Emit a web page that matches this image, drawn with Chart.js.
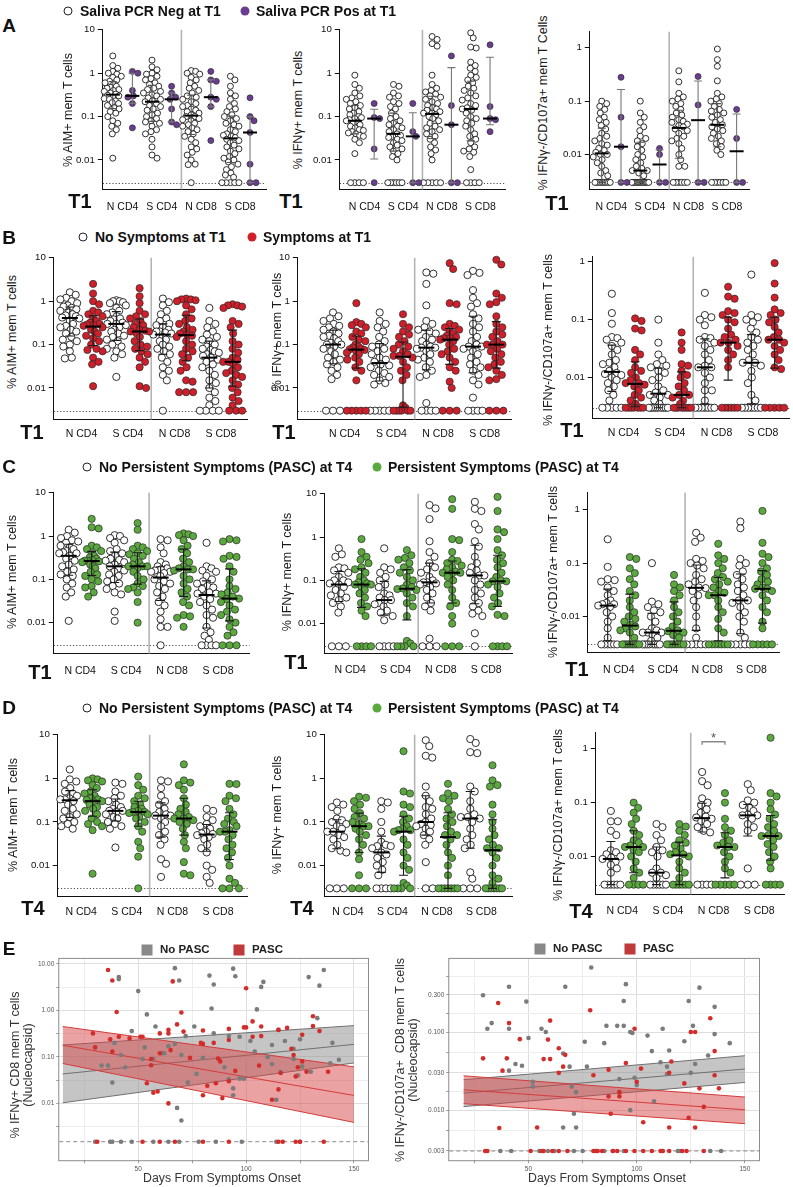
<!DOCTYPE html>
<html><head><meta charset="utf-8">
<script src="https://cdn.jsdelivr.net/npm/chart.js@4.4.1/dist/chart.umd.min.js"></script>
<style>
html,body{margin:0;padding:0;background:#fff;}
#page{position:relative;width:793px;height:1187px;overflow:hidden;font-family:'Liberation Sans',Arial,sans-serif;color:#111;}
.t{position:absolute;white-space:nowrap;line-height:1;}
.letter{font-weight:bold;font-size:19px;transform:translate(-50%,-50%);}
.leg{font-weight:bold;font-size:14px;transform:translateY(-50%);}
.legE{font-weight:bold;font-size:11.5px;transform:translateY(-50%);color:#222;}
.rot{transform:translate(-50%,-50%) rotate(-90deg);text-align:center;font-size:12.5px;color:#1a1a1a;}
.rotE{transform:translate(-50%,-50%) rotate(-90deg);text-align:center;font-size:12.5px;line-height:13px;color:#333;}
.tl{font-weight:bold;font-size:20px;transform:translate(-50%,-50%);}
.xt{font-size:12.3px;color:#333;transform:translate(-50%,-50%);}
.dot{position:absolute;width:9px;height:9px;border-radius:50%;transform:translate(-50%,-50%);box-sizing:border-box;}
.sq{position:absolute;width:11px;height:11px;transform:translate(-50%,-50%);}
</style></head><body><div id="page"></div>
<script>
// ---------------- DATA ----------------
const CATEGORIES = ['N CD4', 'S CD4', 'N CD8', 'S CD8'];
const LABEL_POS = [1.5, 3.5, 5.5, 7.5];
const TICKS_TO_10 = [10, 1, 0.1, 0.01];
const TICKS_TO_1 = [1, 0.1, 0.01];
const FLOOR = 0.003;
const DIVIDER_AT = 4.5;

// Row A (columns: N CD4 neg, N CD4 pos, S CD4 neg, S CD4 pos, N CD8 neg, N CD8 pos, S CD8 neg, S CD8 pos)
const A_AIM = [
 [2.5,1.5,1.3,1.1,1.0,0.95,0.85,0.8,0.7,0.65,0.6,0.55,0.5,0.47,0.45,0.42,0.4,0.38,0.35,0.33,0.31,0.3,0.28,0.26,0.25,0.23,0.21,0.2,0.18,0.16,0.15,0.13,0.12,0.1,0.08,0.07,0.06,0.05,0.04,0.011],
 [1.1,1.0,0.4,0.3,0.28,0.2,0.055],
 [2.0,1.4,1.2,1.0,0.95,0.85,0.75,0.7,0.6,0.55,0.5,0.45,0.42,0.38,0.35,0.32,0.3,0.27,0.25,0.23,0.22,0.2,0.18,0.17,0.15,0.14,0.12,0.11,0.1,0.09,0.08,0.075,0.07,0.06,0.05,0.045,0.04,0.03,0.02,0.013,0.011],
 [0.5,0.35,0.28,0.25,0.15,0.075,0.065],
 [1.15,1.1,1.0,0.95,0.8,0.7,0.6,0.5,0.45,0.4,0.35,0.3,0.28,0.25,0.22,0.2,0.18,0.17,0.15,0.14,0.13,0.12,0.11,0.1,0.1,0.09,0.085,0.08,0.07,0.065,0.06,0.055,0.05,0.045,0.04,0.035,0.03,0.025,0.02,0.018,0.015,0.013,0.01,0.008,0.0078,0.003],
 [1.1,0.7,0.65,0.28,0.25,0.17,0.028],
 [0.85,0.7,0.5,0.35,0.3,0.25,0.2,0.17,0.15,0.13,0.11,0.1,0.09,0.08,0.07,0.065,0.06,0.05,0.045,0.04,0.037,0.035,0.033,0.03,0.028,0.025,0.022,0.02,0.018,0.016,0.014,0.012,0.011,0.01,0.009,0.008,0.007,0.006,0.005,0.0045,0.004,0.003,0.003,0.003,0.003,0.003],
 [0.27,0.1,0.08,0.043,0.008,0.003,0.003]
];
const A_IFNG = [
 [0.9,0.55,0.45,0.35,0.3,0.27,0.25,0.22,0.2,0.18,0.16,0.15,0.13,0.12,0.11,0.1,0.095,0.09,0.085,0.08,0.075,0.07,0.065,0.06,0.055,0.05,0.048,0.045,0.042,0.04,0.037,0.035,0.03,0.025,0.014,0.003,0.003,0.003,0.003],
 [0.2,0.095,0.09,0.018,0.003],
 [0.55,0.5,0.35,0.3,0.28,0.22,0.2,0.17,0.15,0.12,0.1,0.09,0.08,0.07,0.065,0.06,0.055,0.05,0.045,0.04,0.037,0.035,0.033,0.03,0.028,0.025,0.022,0.02,0.018,0.016,0.014,0.012,0.01,0.003,0.003,0.003,0.003,0.003,0.003],
 [0.2,0.045,0.035,0.003,0.003],
 [7,6,4.8,4.2,0.9,0.55,0.45,0.4,0.37,0.33,0.3,0.28,0.25,0.22,0.2,0.18,0.16,0.15,0.14,0.13,0.12,0.12,0.11,0.1,0.09,0.08,0.07,0.06,0.055,0.05,0.045,0.04,0.035,0.03,0.025,0.02,0.017,0.014,0.01,0.003,0.003,0.003,0.003,0.003],
 [2.5,0.18,0.065,0.003,0.003],
 [8.5,6.5,4,3.8,1.8,1.5,1.3,1.1,0.9,0.8,0.7,0.6,0.5,0.45,0.4,0.35,0.3,0.27,0.24,0.2,0.18,0.16,0.15,0.14,0.12,0.1,0.09,0.08,0.07,0.06,0.05,0.04,0.035,0.03,0.025,0.02,0.018,0.016,0.015,0.012,0.006,0.003,0.003,0.003,0.003],
 [4.5,0.17,0.09,0.085,0.045]
];
const A_CD107 = [
 [0.1,0.09,0.08,0.07,0.06,0.05,0.045,0.04,0.035,0.03,0.025,0.022,0.02,0.018,0.016,0.015,0.013,0.012,0.011,0.01,0.01,0.009,0.008,0.007,0.006,0.005,0.0045,0.004,0.003,0.003,0.003,0.003,0.003,0.003,0.003,0.003,0.003,0.003],
 [0.28,0.05,0.014,0.003,0.003],
 [0.1,0.06,0.05,0.04,0.033,0.028,0.022,0.02,0.018,0.016,0.014,0.012,0.01,0.009,0.008,0.007,0.006,0.0055,0.005,0.005,0.0045,0.004,0.003,0.003,0.003,0.003,0.003,0.003,0.003,0.003,0.003,0.003,0.003,0.003,0.003,0.003,0.003],
 [0.013,0.01,0.003,0.003],
 [0.37,0.23,0.14,0.12,0.11,0.1,0.09,0.08,0.07,0.06,0.055,0.05,0.045,0.042,0.04,0.037,0.035,0.033,0.03,0.028,0.025,0.022,0.02,0.018,0.016,0.013,0.01,0.008,0.006,0.006,0.003,0.003,0.003,0.003,0.003,0.003],
 [0.29,0.085,0.003,0.003],
 [0.95,0.6,0.45,0.24,0.14,0.12,0.11,0.1,0.09,0.08,0.07,0.065,0.06,0.055,0.05,0.045,0.04,0.036,0.033,0.03,0.028,0.025,0.022,0.02,0.018,0.016,0.014,0.012,0.01,0.003,0.003,0.003,0.003,0.003,0.003],
 [0.07,0.02,0.003,0.003]
];

// Row B (No symptoms / Symptoms at T1)
const B_AIM = [
 [1.6,1.4,1.2,1.1,1.0,0.9,0.8,0.75,0.7,0.65,0.6,0.55,0.5,0.47,0.45,0.42,0.4,0.35,0.3,0.27,0.25,0.22,0.2,0.18,0.15,0.13,0.12,0.1,0.09,0.07,0.05,0.048],
 [2.5,1.5,1.0,0.85,0.6,0.55,0.5,0.45,0.4,0.35,0.32,0.3,0.29,0.28,0.27,0.25,0.22,0.2,0.18,0.16,0.14,0.12,0.1,0.08,0.075,0.07,0.05,0.04,0.035,0.011],
 [1.05,1.0,1.0,0.95,0.9,0.8,0.7,0.6,0.55,0.5,0.45,0.4,0.38,0.35,0.32,0.3,0.3,0.28,0.25,0.22,0.2,0.18,0.16,0.15,0.13,0.12,0.1,0.09,0.08,0.07,0.06,0.05,0.018],
 [2.0,1.3,0.9,0.6,0.5,0.45,0.4,0.35,0.3,0.28,0.25,0.22,0.21,0.2,0.2,0.18,0.15,0.12,0.1,0.09,0.08,0.07,0.06,0.05,0.04,0.03,0.011,0.01],
 [1.15,0.95,0.8,0.6,0.5,0.4,0.35,0.3,0.28,0.25,0.22,0.2,0.2,0.19,0.18,0.17,0.15,0.13,0.12,0.1,0.09,0.08,0.07,0.06,0.05,0.04,0.03,0.025,0.02,0.015,0.003],
 [1.15,1.1,1.1,1.05,1.0,0.8,0.65,0.5,0.4,0.35,0.3,0.25,0.22,0.2,0.18,0.17,0.16,0.15,0.12,0.1,0.08,0.07,0.06,0.05,0.04,0.03,0.025,0.015,0.014,0.008,0.008,0.008],
 [0.7,0.35,0.3,0.25,0.2,0.17,0.15,0.13,0.12,0.1,0.09,0.08,0.075,0.07,0.065,0.06,0.055,0.05,0.045,0.04,0.035,0.03,0.025,0.02,0.015,0.013,0.01,0.008,0.006,0.005,0.004,0.003,0.003,0.003,0.003],
 [0.85,0.8,0.8,0.75,0.7,0.35,0.3,0.25,0.18,0.12,0.1,0.08,0.065,0.05,0.045,0.04,0.04,0.035,0.03,0.025,0.022,0.02,0.018,0.015,0.012,0.01,0.008,0.006,0.005,0.004,0.003,0.003,0.003]
];
const B_IFNG = [
 [0.55,0.45,0.4,0.35,0.3,0.27,0.25,0.22,0.2,0.18,0.16,0.15,0.14,0.12,0.11,0.1,0.1,0.09,0.08,0.07,0.06,0.05,0.045,0.04,0.035,0.03,0.025,0.02,0.016,0.003,0.003,0.003],
 [0.9,0.33,0.3,0.28,0.25,0.2,0.18,0.15,0.13,0.12,0.1,0.09,0.085,0.08,0.078,0.075,0.07,0.065,0.06,0.05,0.045,0.04,0.03,0.025,0.015,0.003,0.003,0.003,0.003,0.003],
 [0.55,0.35,0.3,0.25,0.2,0.15,0.12,0.1,0.09,0.08,0.07,0.06,0.05,0.045,0.04,0.035,0.033,0.03,0.025,0.022,0.02,0.018,0.015,0.013,0.012,0.003,0.003,0.003,0.003,0.003],
 [0.5,0.3,0.25,0.2,0.17,0.15,0.12,0.1,0.09,0.08,0.07,0.06,0.055,0.055,0.05,0.04,0.03,0.025,0.02,0.015,0.004,0.0035,0.003,0.003,0.003,0.003,0.003,0.003],
 [4.6,4.3,2.5,0.8,0.35,0.3,0.25,0.22,0.2,0.18,0.15,0.13,0.12,0.1,0.09,0.085,0.085,0.08,0.07,0.06,0.05,0.045,0.04,0.03,0.025,0.02,0.018,0.0045,0.003,0.003,0.003,0.003],
 [7.5,5.5,0.9,0.85,0.3,0.27,0.25,0.22,0.2,0.18,0.16,0.15,0.14,0.14,0.13,0.12,0.1,0.08,0.07,0.06,0.05,0.04,0.03,0.025,0.014,0.01,0.003,0.003,0.003],
 [5,4.5,4,1.8,1.2,0.9,0.75,0.5,0.4,0.3,0.25,0.2,0.15,0.12,0.1,0.09,0.09,0.08,0.07,0.06,0.05,0.04,0.035,0.03,0.025,0.02,0.015,0.012,0.006,0.003,0.003,0.003,0.003],
 [9,7,1.5,1.2,0.95,0.85,0.45,0.3,0.25,0.2,0.17,0.15,0.12,0.1,0.1,0.1,0.08,0.07,0.06,0.05,0.04,0.035,0.03,0.025,0.02,0.016,0.015,0.003,0.003,0.003]
];
const B_CD107 = [
 [0.28,0.13,0.085,0.05,0.048,0.045,0.04,0.035,0.03,0.025,0.02,0.018,0.017,0.015,0.013,0.012,0.0115,0.011,0.01,0.009,0.008,0.007,0.006,0.005,0.004,0.003,0.003,0.003,0.003,0.003],
 [0.105,0.095,0.07,0.065,0.03,0.025,0.02,0.015,0.013,0.012,0.01,0.009,0.008,0.008,0.0075,0.007,0.006,0.005,0.0045,0.004,0.0035,0.003,0.003,0.003,0.003,0.003,0.003,0.003],
 [0.1,0.04,0.025,0.02,0.017,0.016,0.015,0.013,0.012,0.01,0.009,0.007,0.006,0.0055,0.005,0.005,0.0045,0.004,0.0035,0.003,0.003,0.003,0.003,0.003,0.003,0.003,0.003,0.003],
 [0.06,0.04,0.03,0.017,0.016,0.013,0.011,0.01,0.008,0.007,0.006,0.005,0.005,0.0045,0.004,0.0035,0.003,0.003,0.003,0.003,0.003,0.003,0.003,0.003],
 [0.29,0.12,0.11,0.1,0.08,0.05,0.048,0.045,0.04,0.035,0.03,0.025,0.02,0.016,0.015,0.015,0.012,0.01,0.008,0.006,0.006,0.004,0.003,0.003,0.003,0.003,0.003,0.003,0.003],
 [0.37,0.25,0.23,0.14,0.13,0.12,0.1,0.09,0.07,0.055,0.05,0.045,0.04,0.04,0.035,0.03,0.025,0.02,0.015,0.003,0.003,0.003,0.003,0.003,0.003],
 [0.6,0.12,0.11,0.1,0.09,0.07,0.06,0.05,0.045,0.04,0.035,0.03,0.025,0.02,0.018,0.018,0.016,0.013,0.01,0.008,0.005,0.004,0.003,0.003,0.003,0.003,0.003,0.003,0.003],
 [0.95,0.42,0.24,0.15,0.13,0.12,0.1,0.09,0.075,0.06,0.05,0.045,0.045,0.04,0.035,0.03,0.025,0.02,0.015,0.014,0.003,0.003,0.003,0.003,0.003]
];

// Row C (No PASC / PASC at T4, measured at T1)
const C_AIM = [
 [1.4,1.2,1.0,0.9,0.8,0.75,0.7,0.6,0.55,0.5,0.45,0.42,0.4,0.4,0.35,0.3,0.27,0.22,0.2,0.17,0.15,0.13,0.12,0.1,0.08,0.065,0.05,0.04,0.011],
 [2.5,1.6,1.5,0.6,0.55,0.5,0.45,0.4,0.35,0.32,0.3,0.28,0.27,0.27,0.26,0.25,0.22,0.2,0.18,0.15,0.13,0.12,0.1,0.09,0.07,0.065,0.05,0.04],
 [1.05,1.0,0.9,0.8,0.7,0.5,0.45,0.4,0.35,0.3,0.28,0.27,0.25,0.22,0.2,0.18,0.16,0.15,0.13,0.12,0.1,0.09,0.08,0.07,0.06,0.05,0.045,0.018,0.011],
 [2.0,1.4,0.6,0.55,0.5,0.45,0.4,0.38,0.35,0.3,0.25,0.22,0.2,0.2,0.2,0.18,0.15,0.12,0.1,0.08,0.07,0.065,0.06,0.05,0.03,0.01],
 [0.85,0.8,0.55,0.4,0.25,0.22,0.2,0.18,0.17,0.16,0.15,0.15,0.14,0.12,0.1,0.09,0.08,0.07,0.06,0.05,0.04,0.03,0.025,0.018,0.012,0.008,0.008,0.003],
 [1.15,1.1,1.05,1.0,0.8,0.6,0.5,0.4,0.3,0.25,0.2,0.18,0.17,0.17,0.16,0.12,0.1,0.08,0.06,0.05,0.04,0.03,0.025,0.015,0.014,0.013,0.008],
 [0.7,0.2,0.18,0.16,0.15,0.12,0.1,0.09,0.08,0.07,0.065,0.06,0.05,0.047,0.047,0.04,0.035,0.03,0.025,0.02,0.015,0.013,0.008,0.006,0.005,0.004,0.003,0.003,0.003,0.003],
 [0.85,0.8,0.75,0.35,0.33,0.3,0.2,0.15,0.1,0.07,0.06,0.05,0.045,0.04,0.036,0.035,0.03,0.025,0.02,0.018,0.015,0.012,0.01,0.008,0.006,0.005,0.003,0.003,0.003]
];
const C_IFNG = [
 [0.55,0.4,0.35,0.2,0.19,0.17,0.15,0.12,0.1,0.1,0.09,0.085,0.08,0.07,0.06,0.05,0.045,0.04,0.035,0.03,0.025,0.018,0.003,0.003,0.003],
 [0.9,0.45,0.35,0.3,0.25,0.2,0.18,0.15,0.12,0.1,0.09,0.085,0.08,0.08,0.07,0.06,0.05,0.04,0.03,0.025,0.02,0.015,0.003,0.003,0.003,0.003],
 [0.55,0.2,0.18,0.15,0.12,0.1,0.08,0.07,0.05,0.045,0.04,0.035,0.035,0.03,0.028,0.025,0.02,0.018,0.015,0.012,0.003,0.003,0.003,0.003],
 [0.5,0.38,0.33,0.3,0.25,0.2,0.17,0.15,0.12,0.1,0.08,0.07,0.065,0.063,0.06,0.05,0.04,0.03,0.025,0.015,0.004,0.0035,0.003,0.003,0.003,0.003],
 [5.5,4.6,2.6,0.8,0.45,0.35,0.25,0.2,0.18,0.15,0.12,0.1,0.09,0.09,0.085,0.08,0.07,0.06,0.05,0.04,0.03,0.025,0.02,0.0045,0.003,0.003,0.003],
 [7.5,4.5,0.9,0.85,0.45,0.3,0.28,0.25,0.22,0.2,0.18,0.16,0.15,0.15,0.14,0.12,0.1,0.08,0.06,0.04,0.03,0.025,0.015,0.01,0.003,0.003,0.003],
 [6.5,4.5,4,2,1.5,0.8,0.6,0.35,0.25,0.2,0.17,0.15,0.13,0.13,0.1,0.08,0.06,0.05,0.04,0.03,0.025,0.02,0.017,0.015,0.006,0.003],
 [8.5,4,1.5,1.3,0.9,0.5,0.38,0.3,0.25,0.2,0.15,0.12,0.1,0.095,0.095,0.08,0.07,0.05,0.04,0.03,0.025,0.016,0.015,0.003,0.003,0.003,0.003]
];
const C_CD107 = [
 [0.28,0.085,0.05,0.048,0.045,0.035,0.03,0.025,0.02,0.018,0.017,0.017,0.016,0.015,0.012,0.01,0.008,0.006,0.004,0.003,0.003,0.003,0.003,0.003,0.003],
 [0.13,0.12,0.08,0.065,0.05,0.04,0.03,0.025,0.02,0.015,0.012,0.01,0.009,0.008,0.007,0.0065,0.006,0.0055,0.005,0.004,0.003,0.003,0.003,0.003,0.003,0.003,0.003,0.003,0.003,0.003],
 [0.1,0.019,0.017,0.015,0.013,0.012,0.01,0.008,0.006,0.0055,0.005,0.005,0.005,0.0045,0.004,0.0035,0.003,0.003,0.003,0.003,0.003,0.003,0.003,0.003],
 [0.06,0.04,0.035,0.03,0.025,0.02,0.015,0.012,0.01,0.008,0.0065,0.0055,0.0053,0.005,0.0045,0.004,0.003,0.003,0.003,0.003,0.003,0.003,0.003,0.003],
 [0.37,0.3,0.25,0.12,0.11,0.1,0.09,0.08,0.06,0.05,0.045,0.04,0.035,0.034,0.03,0.025,0.02,0.015,0.01,0.006,0.004,0.003,0.003,0.003,0.003,0.003],
 [0.23,0.14,0.12,0.1,0.08,0.065,0.055,0.05,0.045,0.04,0.035,0.03,0.028,0.025,0.025,0.02,0.015,0.012,0.009,0.006,0.005,0.003,0.003,0.003,0.003,0.003,0.003,0.003],
 [0.6,0.45,0.12,0.1,0.09,0.07,0.06,0.05,0.04,0.035,0.03,0.025,0.02,0.02,0.018,0.015,0.012,0.01,0.008,0.005,0.004,0.003,0.003,0.003,0.003,0.003],
 [0.95,0.24,0.15,0.13,0.1,0.08,0.07,0.06,0.05,0.045,0.04,0.035,0.033,0.033,0.03,0.025,0.02,0.015,0.012,0.008,0.006,0.003,0.003,0.003,0.003,0.003]
];

// Row D (No PASC / PASC at T4, measured at T4)
const D_AIM = [
 [1.6,0.95,0.85,0.75,0.6,0.5,0.45,0.4,0.35,0.33,0.33,0.3,0.25,0.2,0.18,0.15,0.13,0.12,0.1,0.09,0.08,0.07],
 [1.0,0.95,0.9,0.85,0.7,0.6,0.5,0.45,0.4,0.35,0.33,0.32,0.3,0.28,0.25,0.22,0.2,0.18,0.15,0.12,0.1,0.09,0.08,0.065,0.0065],
 [0.8,0.75,0.5,0.4,0.35,0.3,0.25,0.22,0.2,0.18,0.18,0.17,0.15,0.13,0.12,0.1,0.09,0.08,0.07,0.026],
 [1.1,0.7,0.55,0.4,0.35,0.3,0.25,0.22,0.2,0.18,0.17,0.17,0.16,0.15,0.13,0.12,0.1,0.08,0.06,0.035,0.025,0.016,0.003],
 [0.9,0.85,0.6,0.4,0.3,0.25,0.2,0.17,0.15,0.14,0.14,0.12,0.1,0.08,0.06,0.05,0.04,0.03,0.014,0.011,0.0055],
 [2.1,0.9,0.8,0.7,0.55,0.35,0.25,0.2,0.17,0.15,0.13,0.12,0.12,0.11,0.1,0.09,0.07,0.05,0.035,0.025,0.012,0.0065,0.006],
 [0.2,0.18,0.13,0.11,0.09,0.08,0.07,0.06,0.055,0.053,0.05,0.045,0.04,0.03,0.025,0.02,0.01,0.008,0.0055,0.004],
 [0.75,0.74,0.4,0.35,0.3,0.2,0.15,0.12,0.1,0.09,0.08,0.065,0.06,0.06,0.05,0.04,0.03,0.025,0.02,0.015,0.01,0.005,0.004,0.003,0.003,0.003]
];
const D_IFNG = [
 [0.28,0.25,0.22,0.18,0.12,0.11,0.1,0.09,0.08,0.07,0.06,0.06,0.05,0.045,0.04,0.03,0.025,0.022,0.02,0.003,0.003,0.003],
 [0.38,0.36,0.3,0.25,0.2,0.16,0.13,0.12,0.1,0.09,0.08,0.08,0.07,0.06,0.05,0.04,0.03,0.02,0.014,0.006,0.003,0.003,0.003],
 [0.3,0.28,0.2,0.1,0.06,0.035,0.03,0.028,0.028,0.025,0.02,0.018,0.015,0.012,0.01,0.008,0.006,0.003,0.003,0.003,0.003],
 [4.2,0.5,0.45,0.25,0.22,0.15,0.12,0.1,0.08,0.07,0.065,0.065,0.06,0.04,0.03,0.02,0.015,0.01,0.008,0.004,0.0035,0.003,0.003,0.003,0.003],
 [7.5,5.5,3.3,3.0,0.65,0.4,0.3,0.22,0.2,0.15,0.12,0.1,0.09,0.085,0.08,0.07,0.06,0.05,0.04,0.03,0.012,0.003,0.003],
 [0.75,0.45,0.4,0.35,0.3,0.2,0.15,0.12,0.1,0.08,0.06,0.05,0.05,0.04,0.03,0.02,0.015,0.01,0.006,0.003,0.003,0.003,0.003,0.003,0.003,0.003],
 [8,6.5,4,3.8,0.65,0.5,0.3,0.2,0.15,0.13,0.13,0.12,0.1,0.07,0.05,0.04,0.03,0.025,0.007,0.005,0.003,0.003,0.003],
 [2,0.9,0.7,0.65,0.25,0.15,0.1,0.07,0.05,0.04,0.03,0.025,0.025,0.02,0.015,0.01,0.006,0.005,0.004,0.003,0.003,0.003,0.003,0.003,0.003,0.003]
];
const D_CD107 = [
 [0.07,0.045,0.045,0.03,0.025,0.013,0.012,0.011,0.01,0.0095,0.009,0.008,0.007,0.006,0.005,0.003,0.003,0.003,0.003,0.003,0.003],
 [0.1,0.08,0.065,0.05,0.04,0.03,0.025,0.02,0.018,0.016,0.015,0.015,0.013,0.012,0.01,0.008,0.006,0.005,0.004,0.003,0.003,0.003,0.003],
 [0.04,0.035,0.025,0.02,0.015,0.013,0.012,0.01,0.006,0.005,0.005,0.0045,0.004,0.003,0.003,0.003,0.003,0.003,0.003],
 [0.04,0.036,0.03,0.025,0.02,0.018,0.016,0.014,0.012,0.011,0.011,0.01,0.008,0.006,0.005,0.004,0.003,0.003,0.003,0.003,0.003,0.003],
 [0.37,0.25,0.21,0.12,0.1,0.09,0.075,0.065,0.055,0.053,0.05,0.045,0.04,0.035,0.03,0.028,0.003,0.003,0.003,0.003],
 [0.15,0.1,0.05,0.035,0.03,0.025,0.02,0.018,0.016,0.015,0.015,0.012,0.01,0.008,0.006,0.005,0.003,0.003,0.003,0.003,0.003],
 [0.22,0.17,0.11,0.1,0.09,0.08,0.07,0.06,0.058,0.058,0.05,0.04,0.035,0.03,0.006,0.003,0.003,0.003],
 [1.6,0.15,0.13,0.1,0.075,0.06,0.05,0.04,0.035,0.03,0.025,0.024,0.024,0.02,0.017,0.015,0.012,0.01,0.008,0.006,0.003,0.003,0.003,0.003]
];
const D_SIG = {from: 5, to: 6, level: 1.35, label: '*'};

// Row E: days from symptom onset vs % of CD8 mem T cells (Nucleocapsid)
const E_XTICKS = [25, 50, 75, 100, 125, 150];
const E_XLABELED = [50, 100, 150];
const E1_YTICKS = [10, 1, 0.1, 0.01];
const E1_YLABELS = ['10.00', '1.00', '0.10', '0.01'];
const E1_FLOOR = 0.0015;
const E1_NOPASC_DAYS = [67,94,136,41,41,83,95,69,129,108,85,107,134,50,84,105,54,133,
 58,76,47,39,42,53,62,64,67,72,85,92,97,102,112,115,118,122,125,140,104,
 33,36,44,38,52,57,61,70,73,77,80,90,92,94,94,97,99,110,112,114,116,122,124,126,130,139,143,68,70];
const E1_NOPASC_VALS = [8.1,7.9,7.4,5.2,4.7,5.6,5.4,4.4,5.2,4.1,3.6,3.2,3.4,2.6,1.1,1.05,0.82,0.68,
 0.45,0.45,0.36,0.2,0.11,0.16,0.12,0.17,0.19,0.28,0.32,0.28,0.27,0.22,0.18,0.38,0.22,0.15,0.24,0.2,0.13,
 0.065,0.065,0.06,0.028,0.09,0.09,0.12,0.11,0.028,0.043,0.095,0.06,0.033,0.015,0.021,0.034,0.034,0.1,0.07,0.012,0.047,0.09,0.04,0.062,0.048,0.073,0.087,0.008,0.0043];
const E1_NOPASC_FLOOR_DAYS = [30,37,38,42,47,57,64,69,78,86,98,114,125];
const E1_PASC_DAYS = [36,38,66,100,40,70,131,68,103,100,
 29,37,41,46,51,60,64,64,71,80,79,80,85,92,92,99,107,119,115,126,131,134,103,
 30,38,56,57,59,56,60,65,52,74,82,86,87,88,89,92,95,80,54,64,107,112,115,116,121,122,123,124,126,128,138,106];
const E1_PASC_VALS = [7.4,4.4,4.2,3.0,0.92,0.9,0.75,0.5,0.58,0.43,
 0.32,0.24,0.27,0.25,0.27,0.32,0.32,0.38,0.35,0.37,0.2,0.19,0.2,0.4,0.23,0.43,0.45,0.42,0.38,0.3,0.46,0.36,0.27,
 0.16,0.13,0.066,0.017,0.018,0.09,0.12,0.14,0.27,0.095,0.024,0.027,0.092,0.08,0.013,0.03,0.05,0.015,0.027,0.01,0.28,0.012,0.02,0.045,0.15,0.11,0.038,0.06,0.08,0.048,0.048,0.065];
const E1_PASC_FLOOR_DAYS = [31,52,60,67,80,92,115,117,123,125,136];
const E1_BAND_DAYS = [15, 150];
const E1_NOPASC_LOW = [0.0103, 0.074];
const E1_NOPASC_FIT = [0.043, 0.186];
const E1_NOPASC_HIGH = [0.18, 0.47];
const E1_PASC_LOW = [0.072, 0.0039];
const E1_PASC_FIT = [0.178, 0.0148];
const E1_PASC_HIGH = [0.45, 0.061];

const E2_YTICKS = [0.3, 0.1, 0.03, 0.01, 0.003];
const E2_YLABELS = ['0.300', '0.100', '0.030', '0.010', '0.003'];
const E2_FLOOR = 0.003;
const E2_NOPASC_DAYS = [29,41,33,31,41,49,50,56,58,67,66,69,44,47,41,52,52,70,72,71,66,72,76,77,79,86,85,91,94,95,94,92,92,97,98,99,100,97,105,107,108,111,112,114,115,114,122,124,126,127,125,129,133,136,136,143];
const E2_NOPASC_VALS = [0.295,0.38,0.13,0.11,0.11,0.245,0.084,0.11,0.1,0.38,0.053,0.036,0.039,0.037,0.032,0.023,0.02,0.02,0.017,0.009,0.006,0.006,0.075,0.036,0.67,0.12,0.072,0.12,0.12,0.41,0.25,0.025,0.017,0.1,0.097,0.026,0.021,0.01,0.09,0.057,0.013,0.041,0.11,0.036,0.058,0.029,0.076,0.25,0.12,0.039,0.03,0.37,0.05,0.094,0.21,0.072];
const E2_NOPASC_FLOOR_DAYS = [37,42,55,59,62,71,75,85,89,94,112,119,120,134,139];
const E2_PASC_DAYS = [29,36,41,40,38,46,36.5,54,57,59,60,60,64,64,66,67,78.5,80,87,88,92,92,95,99,100,102,103,116,115,115,122,124,125,127,127,129,131,134,136,136,138,87];
const E2_PASC_VALS = [0.046,0.235,0.13,0.046,0.032,0.081,0.0059,0.006,0.045,0.08,0.14,0.045,0.062,0.03,0.036,0.051,0.19,0.028,0.015,0.009,0.015,0.017,0.04,0.11,0.023,0.034,0.007,0.042,0.03,0.006,0.022,0.008,0.1,0.1,0.006,0.019,0.011,0.15,0.057,0.028,0.019,0.033];
const E2_PASC_FLOOR_DAYS = [30,31,51,56,57,61,64,68,80,81,82,84,89,91,95,99,103,107,111,112,115,121,123,131];
const E2_BAND_DAYS = [20, 150];
const E2_NOPASC_LOW = [0.0111, 0.0226];
const E2_NOPASC_FIT = [0.0165, 0.0336];
const E2_NOPASC_HIGH = [0.0245, 0.0497];
const E2_PASC_LOW = [0.0121, 0.0067];
const E2_PASC_FIT = [0.0182, 0.0101];
const E2_PASC_HIGH = [0.0275, 0.0147];

// ---------------- STYLE / LAYOUT ----------------
const PURPLE = '#6b3d92', RED = '#cf1f2a', GREEN = '#5aa83e';
const page = document.getElementById('page');

function fontAvailable(name) {
  const c = document.createElement('canvas').getContext('2d');
  const s = 'mmmmmmmmmmlli1WWW0.01 NCD4';
  c.font = '40px monospace'; const a = c.measureText(s).width;
  c.font = "40px '" + name + "', monospace"; const b = c.measureText(s).width;
  return Math.abs(a - b) > 0.5;
}
const NARROW_OK = fontAvailable('Liberation Sans Narrow');
const NARROW = NARROW_OK ? "'Liberation Sans Narrow', 'Liberation Sans', Arial, sans-serif" : "'Liberation Sans', Arial, sans-serif";
const NS = NARROW_OK ? 1 : 0.84;

Chart.defaults.font.family = "'Liberation Sans', Arial, sans-serif";
Chart.defaults.animation = false;
Chart.defaults.plugins.legend.display = false;
Chart.defaults.plugins.tooltip.enabled = false;
Chart.defaults.events = [];

function txt(s, x, y, cls, extra) {
  const d = document.createElement('div');
  d.className = 't ' + cls; d.textContent = s;
  d.style.left = x + 'px'; d.style.top = y + 'px';
  if (extra) Object.assign(d.style, extra);
  page.appendChild(d); return d;
}
function html(s, x, y, cls) {
  const d = document.createElement('div');
  d.className = 't ' + cls; d.innerHTML = s;
  d.style.left = x + 'px'; d.style.top = y + 'px';
  page.appendChild(d); return d;
}
function marker(x, y, fill, border, cls) {
  const d = document.createElement('div');
  d.className = cls; d.style.left = x + 'px'; d.style.top = y + 'px';
  d.style.background = fill; if (border) d.style.border = border;
  page.appendChild(d);
}

function mountChart(box, config) {
  const wrap = document.createElement('div');
  wrap.style.position = 'absolute';
  const cv = document.createElement('canvas');
  cv.style.display = 'block';
  wrap.appendChild(cv); page.appendChild(wrap);
  const w0 = box.r - box.l, h0 = box.b - box.t;
  cv.width = w0 + 70; cv.height = h0 + 50;
  config.options = Object.assign({responsive: false, maintainAspectRatio: false, animation: false, layout: {padding: 0}}, config.options);
  const chart = new Chart(cv, config);
  let a = chart.chartArea;
  const W = Math.round(cv.width + (w0 - (a.right - a.left)));
  const H = Math.round(cv.height + (h0 - (a.bottom - a.top)));
  chart.resize(W, H);
  a = chart.chartArea;
  wrap.style.left = (box.l - a.left) + 'px';
  wrap.style.top = (box.t - a.top) + 'px';
  return chart;
}

function quant(sorted, p) {
  const n = sorted.length; const pos = (n + 1) * p - 1;
  if (pos <= 0) return sorted[0];
  if (pos >= n - 1) return sorted[n - 1];
  const lo = Math.floor(pos);
  return sorted[lo] + (sorted[lo + 1] - sorted[lo]) * (pos - lo);
}

// beeswarm layout: horizontal offsets so dots barely overlap, dense rows compressed to the column width
function swarm(vals, cx, geo, pxPerLog, pxPerX, r, half) {
  const d = 2 * r * 0.92;
  const pts = vals.map(v => ({v, py: (geo.lt - Math.log10(v)) * pxPerLog}));
  pts.sort((a, b) => a.py - b.py);
  const placed = [];
  for (const p of pts) {
    let dx = 0;
    for (let k = 0; k < 600; k++) {
      const cand = k === 0 ? 0 : (k % 2 === 1 ? 1 : -1) * Math.ceil(k / 2) * 0.5;
      let ok = true;
      for (const q of placed) {
        const ddy = p.py - q.py; if (Math.abs(ddy) >= d) continue;
        const ddx = cand - q.dx;
        if (ddx * ddx + ddy * ddy < d * d) { ok = false; break; }
      }
      if (ok) { dx = cand; break; }
    }
    p.dx = dx; placed.push(p);
  }
  const scaled = placed.map(p => {
    let m = 0;
    for (const q of placed) if (Math.abs(q.py - p.py) < d) m = Math.max(m, Math.abs(q.dx));
    const f = m > half ? half / m : 1;
    return {x: cx + p.dx * f / pxPerX, y: p.v};
  });
  return scaled;
}

function dotPanel(geo, cols, o) {
  const pxPerLog = (geo.b - geo.t) / (geo.lt - geo.lb);
  const pxPerX = (geo.r - geo.l) / (geo.xmax - geo.xmin);
  const stats = [];
  const datasets = cols.map((vals, i) => {
    const s = vals.slice().sort((a, b) => a - b);
    stats.push({x: i + 1, med: quant(s, 0.5), q1: quant(s, 0.25), q3: quant(s, 0.75)});
    const colored = i % 2 === 1;
    return {
      type: 'scatter', data: swarm(vals, i + 1, geo, pxPerLog, pxPerX, o.r, o.half), showLine: false,
      pointRadius: o.r, pointHoverRadius: o.r,
      pointBackgroundColor: colored ? o.color : '#ffffff',
      pointBorderColor: colored ? '#2a2a2a' : '#1a1a1a',
      pointBorderWidth: colored ? 0.7 : 0.9, clip: false, order: colored ? 0 : 1
    };
  });
  const deco = {
    id: 'deco',
    beforeDatasetsDraw(chart) {
      const {ctx, chartArea: a, scales: {x, y}} = chart;
      ctx.save();
      ctx.strokeStyle = '#3a3a3a'; ctx.lineWidth = 0.9; ctx.setLineDash([1.2, 2]);
      const fy = Math.round(y.getPixelForValue(FLOOR)) + 0.5;
      ctx.beginPath(); ctx.moveTo(a.left, fy); ctx.lineTo(a.right, fy); ctx.stroke();
      ctx.setLineDash([]); ctx.strokeStyle = '#b4b4b4'; ctx.lineWidth = 1.6;
      const dx = x.getPixelForValue(DIVIDER_AT);
      ctx.beginPath(); ctx.moveTo(dx, a.top); ctx.lineTo(dx, a.bottom); ctx.stroke();
      ctx.restore();
    },
    afterDatasetsDraw(chart) {
      const {ctx, scales: {x, y}} = chart;
      ctx.save();
      for (const s of stats) {
        const cx = x.getPixelForValue(s.x);
        const y1 = y.getPixelForValue(s.q1), y3 = y.getPixelForValue(s.q3), ym = y.getPixelForValue(s.med);
        ctx.strokeStyle = (s.x % 2 === 0) ? o.barC : o.barW; ctx.lineWidth = 1.1;
        ctx.beginPath(); ctx.moveTo(cx, y1); ctx.lineTo(cx, y3);
        ctx.moveTo(cx - o.cap, y1); ctx.lineTo(cx + o.cap, y1);
        ctx.moveTo(cx - o.cap, y3); ctx.lineTo(cx + o.cap, y3); ctx.stroke();
        ctx.strokeStyle = '#000'; ctx.lineWidth = 2;
        ctx.beginPath(); ctx.moveTo(cx - o.med, ym); ctx.lineTo(cx + o.med, ym); ctx.stroke();
      }
      if (o.sig) {
        const x1 = x.getPixelForValue(o.sig.from), x2 = x.getPixelForValue(o.sig.to), yy = y.getPixelForValue(o.sig.level);
        ctx.strokeStyle = '#8a8a8a'; ctx.lineWidth = 1.4;
        ctx.beginPath(); ctx.moveTo(x1, yy + 3); ctx.lineTo(x1, yy); ctx.lineTo(x2, yy); ctx.lineTo(x2, yy + 3); ctx.stroke();
        ctx.fillStyle = '#555'; ctx.font = '13px ' + "'Liberation Sans', Arial"; ctx.textAlign = 'center'; ctx.textBaseline = 'bottom';
        ctx.fillText(o.sig.label, (x1 + x2) / 2, yy + 3);
      }
      ctx.restore();
    }
  };
  mountChart(geo, {
    type: 'scatter', data: {datasets},
    options: {
      scales: {
        x: {
          type: 'linear', min: geo.xmin, max: geo.xmax,
          afterBuildTicks: s => { s.ticks = LABEL_POS.map(v => ({value: v})); },
          ticks: {autoSkip: false, maxRotation: 0, minRotation: 0, padding: o.lpad, color: '#111',
            font: {family: NARROW, size: 12.5 * NS}, callback: (v, i) => CATEGORIES[i]},
          grid: {display: true, drawOnChartArea: false, drawTicks: false, color: 'rgba(0,0,0,0)'},
          border: {display: true, color: '#111', width: 1}
        },
        y: {
          type: 'logarithmic', min: Math.pow(10, geo.lb), max: Math.pow(10, geo.lt),
          afterBuildTicks: s => { s.ticks = o.yticks.map(v => ({value: v})); },
          ticks: {autoSkip: false, padding: 3, color: '#111', font: {family: NARROW, size: 11.5 * NS},
            callback: v => String(v)},
          grid: {display: true, drawOnChartArea: false, drawTicks: true, tickLength: 5, color: '#111', lineWidth: 1},
          border: {display: true, color: '#111', width: 1}
        }
      }
    },
    plugins: [deco]
  });
  txt(o.ytitle, o.tx, o.ty, 'rot');
  txt(o.tlabel, o.lx, o.ly, 'tl');
}

const GEO = {
  A1: {l: 103, r: 266, t: 30, b: 190, lt: 1, lb: -2.678, xmin: 0.49, xmax: 8.82},
  A2: {l: 340, r: 505, t: 30, b: 190, lt: 1, lb: -2.678, xmin: 0.22, xmax: 8.78},
  A3: {l: 590, r: 750, t: 32, b: 190, lt: 0.3, lb: -2.654, xmin: 0.38, xmax: 8.67},
  B1: {l: 54, r: 248, t: 258, b: 420, lt: 1, lb: -2.724, xmin: 0.31, xmax: 8.64},
  B2: {l: 298, r: 512, t: 258, b: 420, lt: 1, lb: -2.724, xmin: -0.51, xmax: 8.65},
  B3: {l: 593, r: 790, t: 257, b: 419, lt: 0.086, lb: -2.707, xmin: 0.18, xmax: 8.64},
  C1: {l: 54, r: 250, t: 493, b: 654, lt: 1, lb: -2.71, xmin: 0.35, xmax: 8.87},
  C2: {l: 325, r: 513, t: 494, b: 654, lt: 1, lb: -2.687, xmin: 0.38, xmax: 8.66},
  C3: {l: 588, r: 780, t: 493, b: 653, lt: 0.318, lb: -2.673, xmin: 0.1, xmax: 8.77},
  D1: {l: 58, r: 248, t: 735, b: 897, lt: 1, lb: -2.707, xmin: 0.475, xmax: 8.79},
  D2: {l: 325, r: 513, t: 735, b: 897, lt: 1, lb: -2.707, xmin: 0.46, xmax: 8.9},
  D3: {l: 596, r: 785, t: 733, b: 895, lt: 0.296, lb: -2.704, xmin: 0.34, xmax: 8.61}
};
const T_AIM = '% AIM+ mem T cells', T_IFN = '% IFNγ+ mem T cells', T_CD = '% IFNγ-/CD107a+ mem T cells';
const baseA = {r: 3.0, half: 8.5, cap: 4, med: 7, barW: '#555', barC: '#777', lpad: 11};
const baseB = {r: 3.6, half: 9.5, cap: 4.5, med: 8, barW: '#1a1a1a', barC: '#1a1a1a', lpad: 8};

dotPanel(GEO.A1, A_AIM, Object.assign({}, baseA, {color: PURPLE, yticks: TICKS_TO_10, ytitle: T_AIM, tx: 68, ty: 110, tlabel: 'T1', lx: 80, ly: 201}));
dotPanel(GEO.A2, A_IFNG, Object.assign({}, baseA, {color: PURPLE, yticks: TICKS_TO_10, ytitle: T_IFN, tx: 298, ty: 110, tlabel: 'T1', lx: 291, ly: 201}));
dotPanel(GEO.A3, A_CD107, Object.assign({}, baseA, {color: PURPLE, yticks: TICKS_TO_1, ytitle: '% IFNγ-/CD107a+ mem T Cells', tx: 543, ty: 103, tlabel: 'T1', lx: 557, ly: 203}));
dotPanel(GEO.B1, B_AIM, Object.assign({}, baseB, {color: RED, yticks: TICKS_TO_10, ytitle: T_AIM, tx: 12, ty: 332, tlabel: 'T1', lx: 32, ly: 432}));
dotPanel(GEO.B2, B_IFNG, Object.assign({}, baseB, {color: RED, yticks: TICKS_TO_10, ytitle: T_IFN, tx: 277, ty: 332, tlabel: 'T1', lx: 284, ly: 432}));
dotPanel(GEO.B3, B_CD107, Object.assign({}, baseB, {color: RED, yticks: TICKS_TO_1, ytitle: T_CD, tx: 548, ty: 340, tlabel: 'T1', lx: 572, ly: 430}));
dotPanel(GEO.C1, C_AIM, Object.assign({}, baseB, {color: GREEN, lpad: 11, yticks: TICKS_TO_10, ytitle: T_AIM, tx: 12, ty: 572, tlabel: 'T1', lx: 40, ly: 672}));
dotPanel(GEO.C2, C_IFNG, Object.assign({}, baseB, {color: GREEN, lpad: 10, yticks: TICKS_TO_10, ytitle: T_IFN, tx: 287, ty: 572, tlabel: 'T1', lx: 296, ly: 662}));
dotPanel(GEO.C3, C_CD107, Object.assign({}, baseB, {color: GREEN, lpad: 11, yticks: TICKS_TO_1, ytitle: T_CD, tx: 553, ty: 572, tlabel: 'T1', lx: 577, ly: 669}));
dotPanel(GEO.D1, D_AIM, Object.assign({}, baseB, {color: GREEN, lpad: 9, yticks: TICKS_TO_10, ytitle: T_AIM, tx: 13, ty: 815, tlabel: 'T4', lx: 33, ly: 908}));
dotPanel(GEO.D2, D_IFNG, Object.assign({}, baseB, {color: GREEN, lpad: 9, yticks: TICKS_TO_10, ytitle: T_IFN, tx: 277, ty: 815, tlabel: 'T4', lx: 302, ly: 908}));
dotPanel(GEO.D3, D_CD107, Object.assign({}, baseB, {color: GREEN, lpad: 10, yticks: TICKS_TO_1, ytitle: T_CD, tx: 558, ty: 815, tlabel: 'T4', lx: 581, ly: 911, sig: D_SIG}));

// panel letters and legends
txt('A', 9, 25, 'letter'); txt('B', 9, 237, 'letter'); txt('C', 9, 466, 'letter'); txt('D', 9, 707, 'letter'); txt('E', 9, 948, 'letter');
function legendRow(y, x1, t1, x2, t2, color) {
  marker(x1, y, '#fff', '1.2px solid #222', 'dot'); txt(t1, x1 + 12, y, 'leg');
  marker(x2, y, color, 'none', 'dot'); txt(t2, x2 + 11, y, 'leg');
}
legendRow(11, 68, 'Saliva PCR Neg at T1', 245, 'Saliva PCR Pos at T1', PURPLE);
legendRow(237, 83, 'No Symptoms at T1', 252, 'Symptoms at T1', RED);
legendRow(467, 87, 'No Persistent Symptoms (PASC) at T4', 377, 'Persistent Symptoms (PASC) at T4', GREEN);
legendRow(708, 87, 'No Persistent Symptoms (PASC) at T4', 377, 'Persistent Symptoms (PASC) at T4', GREEN);

// ---------------- Row E ----------------
function ePanel(geo, d) {
  const mk = (days, vals) => days.map((x, i) => ({x, y: vals[i]}));
  const lineDs = (days, vals, col, order, fill, bg) => ({type: 'line', data: mk(days, vals), borderColor: col, borderWidth: 1,
    pointRadius: 0, fill: fill || false, backgroundColor: bg || 'transparent', order, tension: 0});
  const datasets = [
    lineDs(d.bandDays, d.nLow, '#6f6f6f', 4),
    lineDs(d.bandDays, d.nFit, '#6f6f6f', 4),
    lineDs(d.bandDays, d.nHigh, '#6f6f6f', 4, '-2', 'rgba(150,150,150,0.55)'),
    lineDs(d.bandDays, d.pLow, '#d53a3a', 3),
    lineDs(d.bandDays, d.pFit, '#d53a3a', 3),
    lineDs(d.bandDays, d.pHigh, '#d53a3a', 3, '-2', 'rgba(214,70,70,0.5)'),
    {type: 'scatter', data: mk(d.nDays, d.nVals).concat(d.nFloor.map(x => ({x, y: d.floor}))), pointRadius: 2.3,
      pointBackgroundColor: '#7b7b7b', pointBorderWidth: 0, order: 1, clip: false},
    {type: 'scatter', data: mk(d.pDays, d.pVals).concat(d.pFloor.map(x => ({x, y: d.floor}))), pointRadius: 2.3,
      pointBackgroundColor: '#d42b2b', pointBorderWidth: 0, order: 0, clip: false}
  ];
  const ymaj = d.yticks;
  const yall = [];
  ymaj.forEach((v, i) => { yall.push(v); const nxt = ymaj[i + 1]; if (nxt) yall.push(Math.sqrt(v * nxt)); });
  const lo = Math.pow(10, geo.lb), hi = Math.pow(10, geo.lt);
  const last = ymaj[ymaj.length - 1], first = ymaj[0];
  if (last / Math.sqrt(ymaj[ymaj.length - 2] / last) > lo) yall.push(last / Math.sqrt(ymaj[ymaj.length - 2] / last));
  if (first * Math.sqrt(first / ymaj[1]) < hi) yall.unshift(first * Math.sqrt(first / ymaj[1]));
  const deco = {
    id: 'edeco',
    beforeDatasetsDraw(chart) {
      const {ctx, chartArea: a, scales: {y}} = chart;
      ctx.save(); ctx.strokeStyle = '#8a8a8a'; ctx.lineWidth = 1; ctx.setLineDash([4, 3]);
      const fy = y.getPixelForValue(d.floor);
      ctx.beginPath(); ctx.moveTo(a.left, fy); ctx.lineTo(a.right, fy); ctx.stroke(); ctx.restore();
    },
    afterDraw(chart) {
      const {ctx, chartArea: a} = chart;
      ctx.save(); ctx.strokeStyle = '#8c8c8c'; ctx.lineWidth = 1;
      ctx.strokeRect(a.left - 0.5, a.top - 0.5, a.right - a.left + 1, a.bottom - a.top + 1); ctx.restore();
    }
  };
  mountChart(geo, {
    type: 'scatter', data: {datasets},
    options: {
      scales: {
        x: {type: 'linear', min: geo.xmin, max: geo.xmax,
          afterBuildTicks: s => { s.ticks = E_XTICKS.map(v => ({value: v})); },
          ticks: {autoSkip: false, maxRotation: 0, padding: 2, color: '#555', font: {size: 6.5},
            callback: v => E_XLABELED.includes(v) ? String(v) : ''},
          grid: {color: c => (c.tick && E_XLABELED.includes(c.tick.value)) ? '#dedede' : '#ededed', lineWidth: 1,
            drawTicks: true, tickLength: 3, tickColor: '#9a9a9a'},
          border: {display: false}},
        y: {type: 'logarithmic', min: lo, max: hi,
          afterBuildTicks: s => { s.ticks = yall.map(v => ({value: v})); },
          ticks: {autoSkip: false, padding: 2, color: '#555', font: {size: 6.5},
            callback: v => { const i = ymaj.findIndex(m => Math.abs(m - v) / m < 1e-6); return i >= 0 ? d.ylabels[i] : ''; }},
          grid: {color: c => (c.tick && ymaj.some(m => Math.abs(m - c.tick.value) / m < 1e-6)) ? '#dedede' : '#ededed', lineWidth: 1,
            drawTicks: true, tickLength: 3, tickColor: '#9a9a9a'},
          border: {display: false}}
      }
    },
    plugins: [deco]
  });
}
const GEO_E1 = {l: 59, r: 368, t: 959, b: 1160, lt: 1.107, lb: -3.199, xmin: 13.4, xmax: 156.5};
const GEO_E2 = {l: 449, r: 759, t: 959, b: 1160, lt: -0.064, lb: -2.641, xmin: 13.4, xmax: 156.5};
ePanel(GEO_E1, {bandDays: E1_BAND_DAYS, nLow: E1_NOPASC_LOW, nFit: E1_NOPASC_FIT, nHigh: E1_NOPASC_HIGH,
  pLow: E1_PASC_LOW, pFit: E1_PASC_FIT, pHigh: E1_PASC_HIGH, nDays: E1_NOPASC_DAYS, nVals: E1_NOPASC_VALS, nFloor: E1_NOPASC_FLOOR_DAYS,
  pDays: E1_PASC_DAYS, pVals: E1_PASC_VALS, pFloor: E1_PASC_FLOOR_DAYS, floor: E1_FLOOR, yticks: E1_YTICKS, ylabels: E1_YLABELS});
ePanel(GEO_E2, {bandDays: E2_BAND_DAYS, nLow: E2_NOPASC_LOW, nFit: E2_NOPASC_FIT, nHigh: E2_NOPASC_HIGH,
  pLow: E2_PASC_LOW, pFit: E2_PASC_FIT, pHigh: E2_PASC_HIGH, nDays: E2_NOPASC_DAYS, nVals: E2_NOPASC_VALS, nFloor: E2_NOPASC_FLOOR_DAYS,
  pDays: E2_PASC_DAYS, pVals: E2_PASC_VALS, pFloor: E2_PASC_FLOOR_DAYS, floor: E2_FLOOR, yticks: E2_YTICKS, ylabels: E2_YLABELS});

// E legends and titles
marker(147, 950, '#888888', 'none', 'sq'); txt('No PASC', 160, 950, 'legE');
marker(239, 950, '#c0393b', 'none', 'sq'); txt('PASC', 252, 950, 'legE');
marker(540, 949, '#888888', 'none', 'sq'); txt('No PASC', 553, 949, 'legE');
marker(630, 949, '#c0393b', 'none', 'sq'); txt('PASC', 643, 949, 'legE');
html('% IFNγ+ CD8 mem T cells<br>(Nucleocapsid)', 22, 1065, 'rotE');
html('% IFNγ-/CD107a+ &nbsp;CD8 mem T cells<br>(Nucleocapsid)', 407, 1060, 'rotE');
txt('Days From Symptoms Onset', 222, 1178, 'xt');
txt('Days From Symptoms Onset', 607, 1178, 'xt');
</script></body></html>
